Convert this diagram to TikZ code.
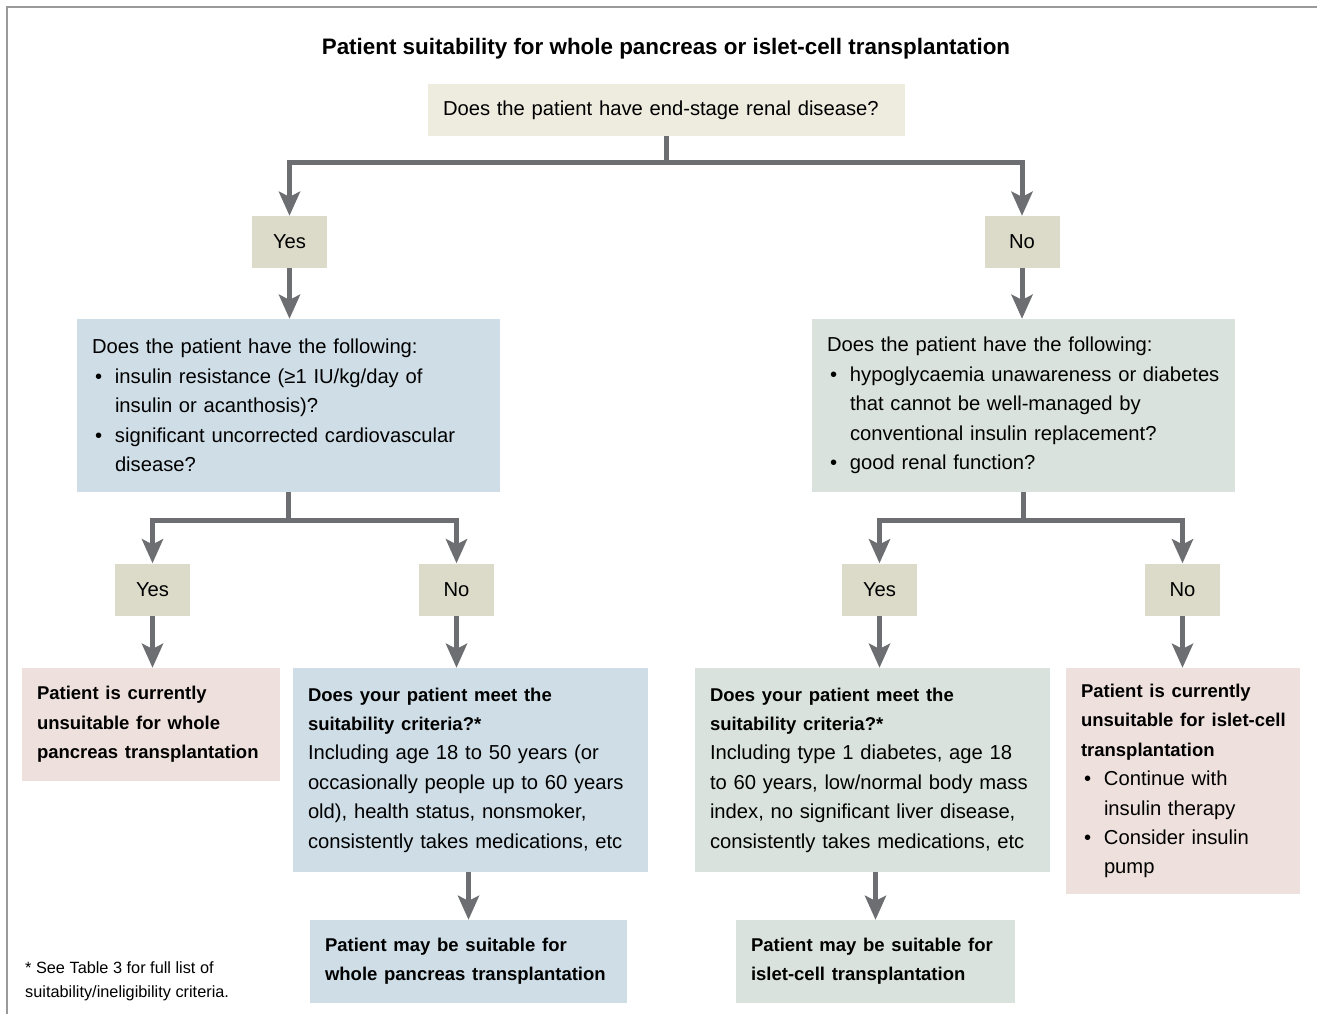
\documentclass[tikz,border=0pt]{standalone}
\usepackage{fontspec}
\setmainfont{Liberation Sans}
\usetikzlibrary{arrows.meta}

\definecolor{stemgrey}{HTML}{6D6E71}
\definecolor{framegrey}{HTML}{9A9A9A}
\definecolor{askbeige}{HTML}{EEEBDF}
\definecolor{answerbeige}{HTML}{DCDBC9}
\definecolor{wholeblue}{HTML}{CEDDE6}
\definecolor{isletgreen}{HTML}{D9E2DD}
\definecolor{unfitpink}{HTML}{EEE0DC}

\newcommand{\bodyfont}{\fontsize{20.2}{29.4}\selectfont}
\newcommand{\headfont}{\fontsize{18.5}{29.4}\selectfont\bfseries}
\newcommand{\dotline}{\makebox[23pt][l]{\hspace{3pt}•}}
\newcommand{\hangline}{\hspace*{23pt}}

\begin{document}
\begin{tikzpicture}[x = 1pt, y = -1pt,
        box/.style = {inner sep = 0pt, align = left, font = \bodyfont},
        answer/.style = {fill = answerbeige, inner sep = 0pt, font = \bodyfont,
                minimum width = 75pt, minimum height = 52pt},
        stem/.style = {draw = stemgrey, line width = 5pt},
        flow/.style = {stem, -{Stealth[length = 24pt, width = 21pt, inset = 5pt]}}]

        \useasboundingbox (0, 0) rectangle (1317, 1014);

        % Frame lines at the top and left.
        \draw [framegrey, line width = 1.5pt] (6, 7) to (1317, 7);
        \draw [framegrey, line width = 1.5pt] (7, 7) to (7, 1014);

        % Title.
        \node (title) at (666, 49) [font = \fontsize{22.4}{26}\selectfont\bfseries]
                {Patient suitability for whole pancreas or islet-cell transplantation};

        % First question.
        \node (q0) at (666.5, 110) [box, fill = askbeige, minimum width = 477pt,
                minimum height = 52pt, text width = 447pt]
                {Does the patient have end-stage renal disease?};

        % First answers.
        \node (yes1) at (289.5, 242) [answer] {Yes};
        \node (no1) at (1022, 242) [answer] {No};

        % Second level questions.
        \node (q1) at (288.5, 405.5) [box, fill = wholeblue, minimum width = 423pt,
                minimum height = 173pt, text width = 393pt]
                {Does the patient have the following:\\
                \dotline insulin resistance (≥1 IU/kg/day of\\
                \hangline insulin or acanthosis)?\\
                \dotline significant uncorrected cardiovascular\\
                \hangline disease?};
        \node (q2) at (1023.5, 405.5) [box, fill = isletgreen, minimum width = 423pt,
                minimum height = 173pt, text width = 393pt]
                {Does the patient have the following:\\
                \dotline hypoglycaemia unawareness or diabetes\\
                \hangline that cannot be well-managed by\\
                \hangline conventional insulin replacement?\\
                \dotline good renal function?};

        % Second level answers.
        \node (yes2) at (152.5, 589.5) [answer] {Yes};
        \node (no2) at (456.5, 589.5) [answer] {No};
        \node (yes3) at (879.5, 589.5) [answer] {Yes};
        \node (no3) at (1182.5, 589.5) [answer] {No};

        % Outcomes and criteria.
        \node (r1) at (151, 724.5) [box, fill = unfitpink, minimum width = 258pt,
                minimum height = 113pt, text width = 228pt]
                {{\headfont Patient is currently\\ unsuitable for whole\\
                pancreas transplantation}};
        \node (q3) at (470.5, 770) [box, fill = wholeblue, minimum width = 355pt,
                minimum height = 204pt, text width = 325pt]
                {{\headfont Does your patient meet the\\ suitability criteria?*}\\
                Including age 18 to 50 years (or\\
                occasionally people up to 60 years\\
                old), health status, nonsmoker,\\
                consistently takes medications, etc};
        \node (q4) at (872.5, 770) [box, fill = isletgreen, minimum width = 355pt,
                minimum height = 204pt, text width = 325pt]
                {{\headfont Does your patient meet the\\ suitability criteria?*}\\
                Including type 1 diabetes, age 18\\
                to 60 years, low/normal body mass\\
                index, no significant liver disease,\\
                consistently takes medications, etc};
        \node (r4) at (1183, 781) [box, fill = unfitpink, minimum width = 234pt,
                minimum height = 226pt, text width = 204pt]
                {{\headfont Patient is currently\\ \mbox{unsuitable for islet-cell}\\
                transplantation}\\
                \dotline Continue with\\
                \hangline insulin therapy\\
                \dotline Consider insulin\\
                \hangline pump};

        % Final outcomes.
        \node (e1) at (468.5, 961.5) [box, fill = wholeblue, minimum width = 317pt,
                minimum height = 83pt, text width = 287pt]
                {{\headfont Patient may be suitable for\\ whole pancreas transplantation}};
        \node (e2) at (875.5, 961.5) [box, fill = isletgreen, minimum width = 279pt,
                minimum height = 83pt, text width = 249pt]
                {{\headfont Patient may be suitable for\\ islet-cell transplantation}};

        % Footnote.
        \node (note) at (25, 961) [anchor = north west, inner sep = 0pt, align = left,
                font = \fontsize{16.3}{24}\selectfont]
                {* See Table 3 for full list of\\ suitability/ineligibility criteria.};

        % Split below the first question.
        \draw [stem] (q0.south) -- ++(0, 26) coordinate (split0);
        \draw [flow] (split0) -| (yes1.north);
        \draw [flow] (split0) -| (no1.north);
        \draw [flow] (yes1.south) to (yes1.south |- q1.north);
        \draw [flow] (no1.south) to (no1.south |- q2.north);

        % Splits below the second questions.
        \draw [stem] (q1.south) -- ++(0, 28) coordinate (split1);
        \draw [flow] (split1) -| (yes2.north);
        \draw [flow] (split1) -| (no2.north);
        \draw [stem] (q2.south) -- ++(0, 28) coordinate (split2);
        \draw [flow] (split2) -| (yes3.north);
        \draw [flow] (split2) -| (no3.north);

        % Answers down to outcomes.
        \draw [flow] (yes2.south) to (yes2.south |- r1.north);
        \draw [flow] (no2.south) to (no2.south |- q3.north);
        \draw [flow] (yes3.south) to (yes3.south |- q4.north);
        \draw [flow] (no3.south) to (no3.south |- r4.north);

        % Criteria down to final outcomes.
        \draw [flow] (q3.south -| e1.north) to (e1.north);
        \draw [flow] (q4.south -| e2.north) to (e2.north);
    \end{tikzpicture}
\end{document}
